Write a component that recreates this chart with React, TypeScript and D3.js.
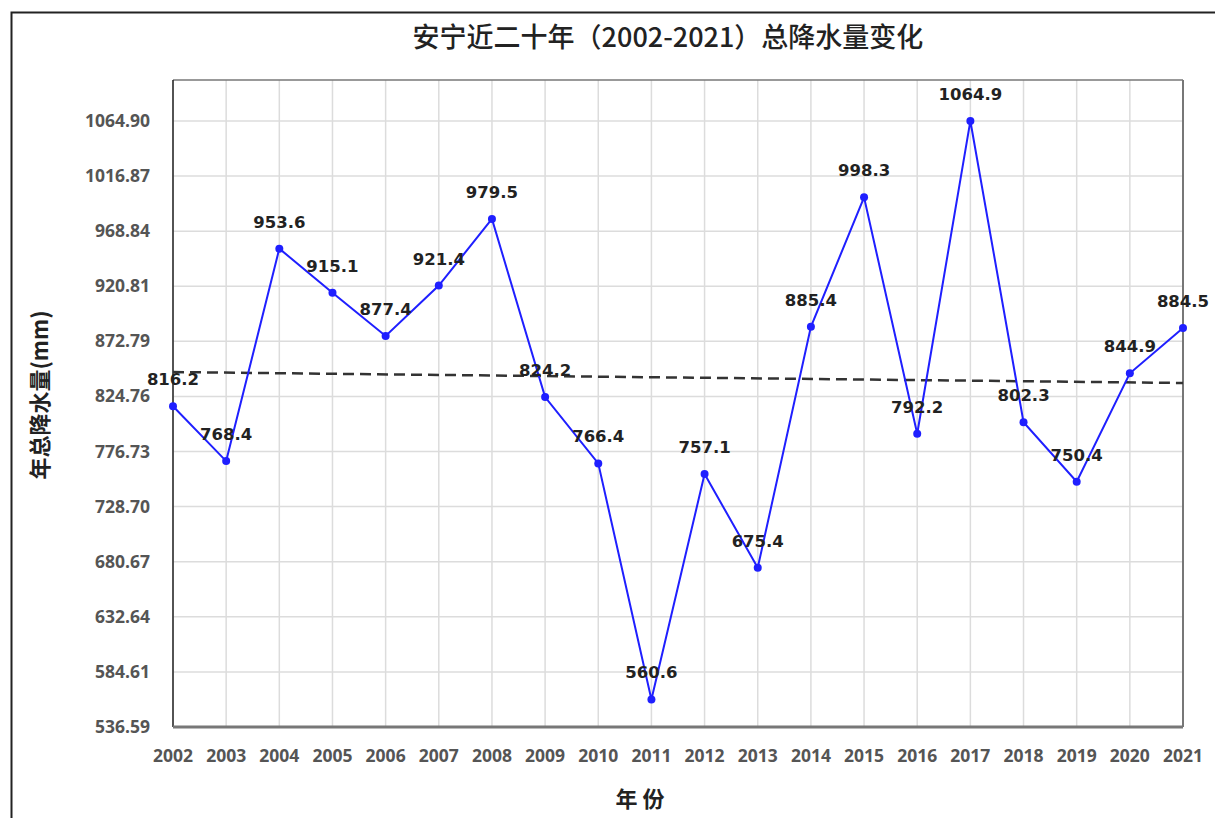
import React from "react";
import * as d3 from "d3";

const years = ["2002","2003","2004","2005","2006","2007","2008","2009","2010","2011","2012","2013","2014","2015","2016","2017","2018","2019","2020","2021"];
const precipitation = [816.2, 768.4, 953.6, 915.1, 877.4, 921.4, 979.5, 824.2, 766.4, 560.6, 757.1, 675.4, 885.4, 998.3, 792.2, 1064.9, 802.3, 750.4, 844.9, 884.5];
const yTicks = [536.59, 584.61, 632.64, 680.67, 728.70, 776.73, 824.76, 872.79, 920.81, 968.84, 1016.87, 1064.90];
const trendEnds = [846.0, 836.5];
const yMax = 1100.6;

const W = 1215, H = 818;
const left = 173, right = 1183, top = 80, bottom = 727;

export default function App() {
  const x = d3.scalePoint<string>().domain(years).range([left, right]);
  const y = d3.scaleLinear().domain([yTicks[0], yMax]).range([bottom, top]);
  const line = d3.line<number>().x((_, i) => x(years[i]) as number).y(d => y(d));
  const cjk = "'Noto Sans CJK SC', 'Noto Sans', sans-serif";
  const num = "'Open Sans', 'DejaVu Sans', sans-serif";
  return (
    <svg width={W} height={H} style={{ position: "absolute", left: 0, top: 0, background: "#fff" }}>
      <rect x={0} y={0} width={W} height={H} fill="#fff" />
      <rect x={11.5} y={12.5} width={W + 10} height={H + 10} fill="none" stroke="#222" strokeWidth={2} />
      <text x={668} y={47} textAnchor="middle" fontFamily={cjk} fontWeight={500} fontSize={27} fill="#222">安宁近二十年（2002-2021）总降水量变化</text>
      {/* grid */}
      {years.map(yr => (
        <line key={"v" + yr} x1={x(yr)} x2={x(yr)} y1={top} y2={bottom} stroke="#dcdcdc" strokeWidth={1.5} />
      ))}
      {yTicks.map(t => (
        <line key={"h" + t} x1={left} x2={right} y1={y(t)} y2={y(t)} stroke="#dcdcdc" strokeWidth={1.5} />
      ))}
      {/* frame */}
      <line x1={left} x2={right} y1={top} y2={top} stroke="#777" strokeWidth={1.5} />
      <line x1={right} x2={right} y1={top} y2={bottom} stroke="#777" strokeWidth={2} />
      <line x1={left} x2={left} y1={top} y2={bottom} stroke="#222" strokeWidth={1.5} />
      <line x1={left} x2={right} y1={bottom} y2={bottom} stroke="#777" strokeWidth={3} />
      {/* y ticks */}
      {yTicks.map(t => (
        <text key={"yl" + t} x={150} y={y(t) + 6} textAnchor="end" fontFamily={num} fontWeight={700} fontSize={17.5} fill="#555">{t.toFixed(2)}</text>
      ))}
      {years.map(yr => (
        <text key={"xl" + yr} x={x(yr)} y={762} textAnchor="middle" fontFamily={num} fontWeight={700} fontSize={17.5} fill="#555">{yr}</text>
      ))}
      {/* trend */}
      <line x1={left} x2={right} y1={y(trendEnds[0])} y2={y(trendEnds[1])} stroke="#333" strokeWidth={2.5} strokeDasharray="11,6" />
      {/* series */}
      <path d={line(precipitation) || ""} fill="none" stroke="#1f1fff" strokeWidth={2} />
      {precipitation.map((v, i) => (
        <circle key={"c" + i} cx={x(years[i])} cy={y(v)} r={4} fill="#1f1fff" />
      ))}
      {precipitation.map((v, i) => (
        <text key={"l" + i} x={x(years[i])} y={y(v) - 21} textAnchor="middle" fontFamily="'DejaVu Sans', sans-serif" fontWeight={700} fontSize={16.5} fill="#222">{v.toFixed(1)}</text>
      ))}
      <text transform={`translate(48,${395}) rotate(-90)`} textAnchor="middle" fontFamily={cjk} fontWeight={700} fontSize={22} fill="#222">年总降水量(mm)</text>
      <text x={640} y={807} textAnchor="middle" fontFamily={cjk} fontWeight={700} fontSize={22} fill="#222">年 份</text>
    </svg>
  );
}
